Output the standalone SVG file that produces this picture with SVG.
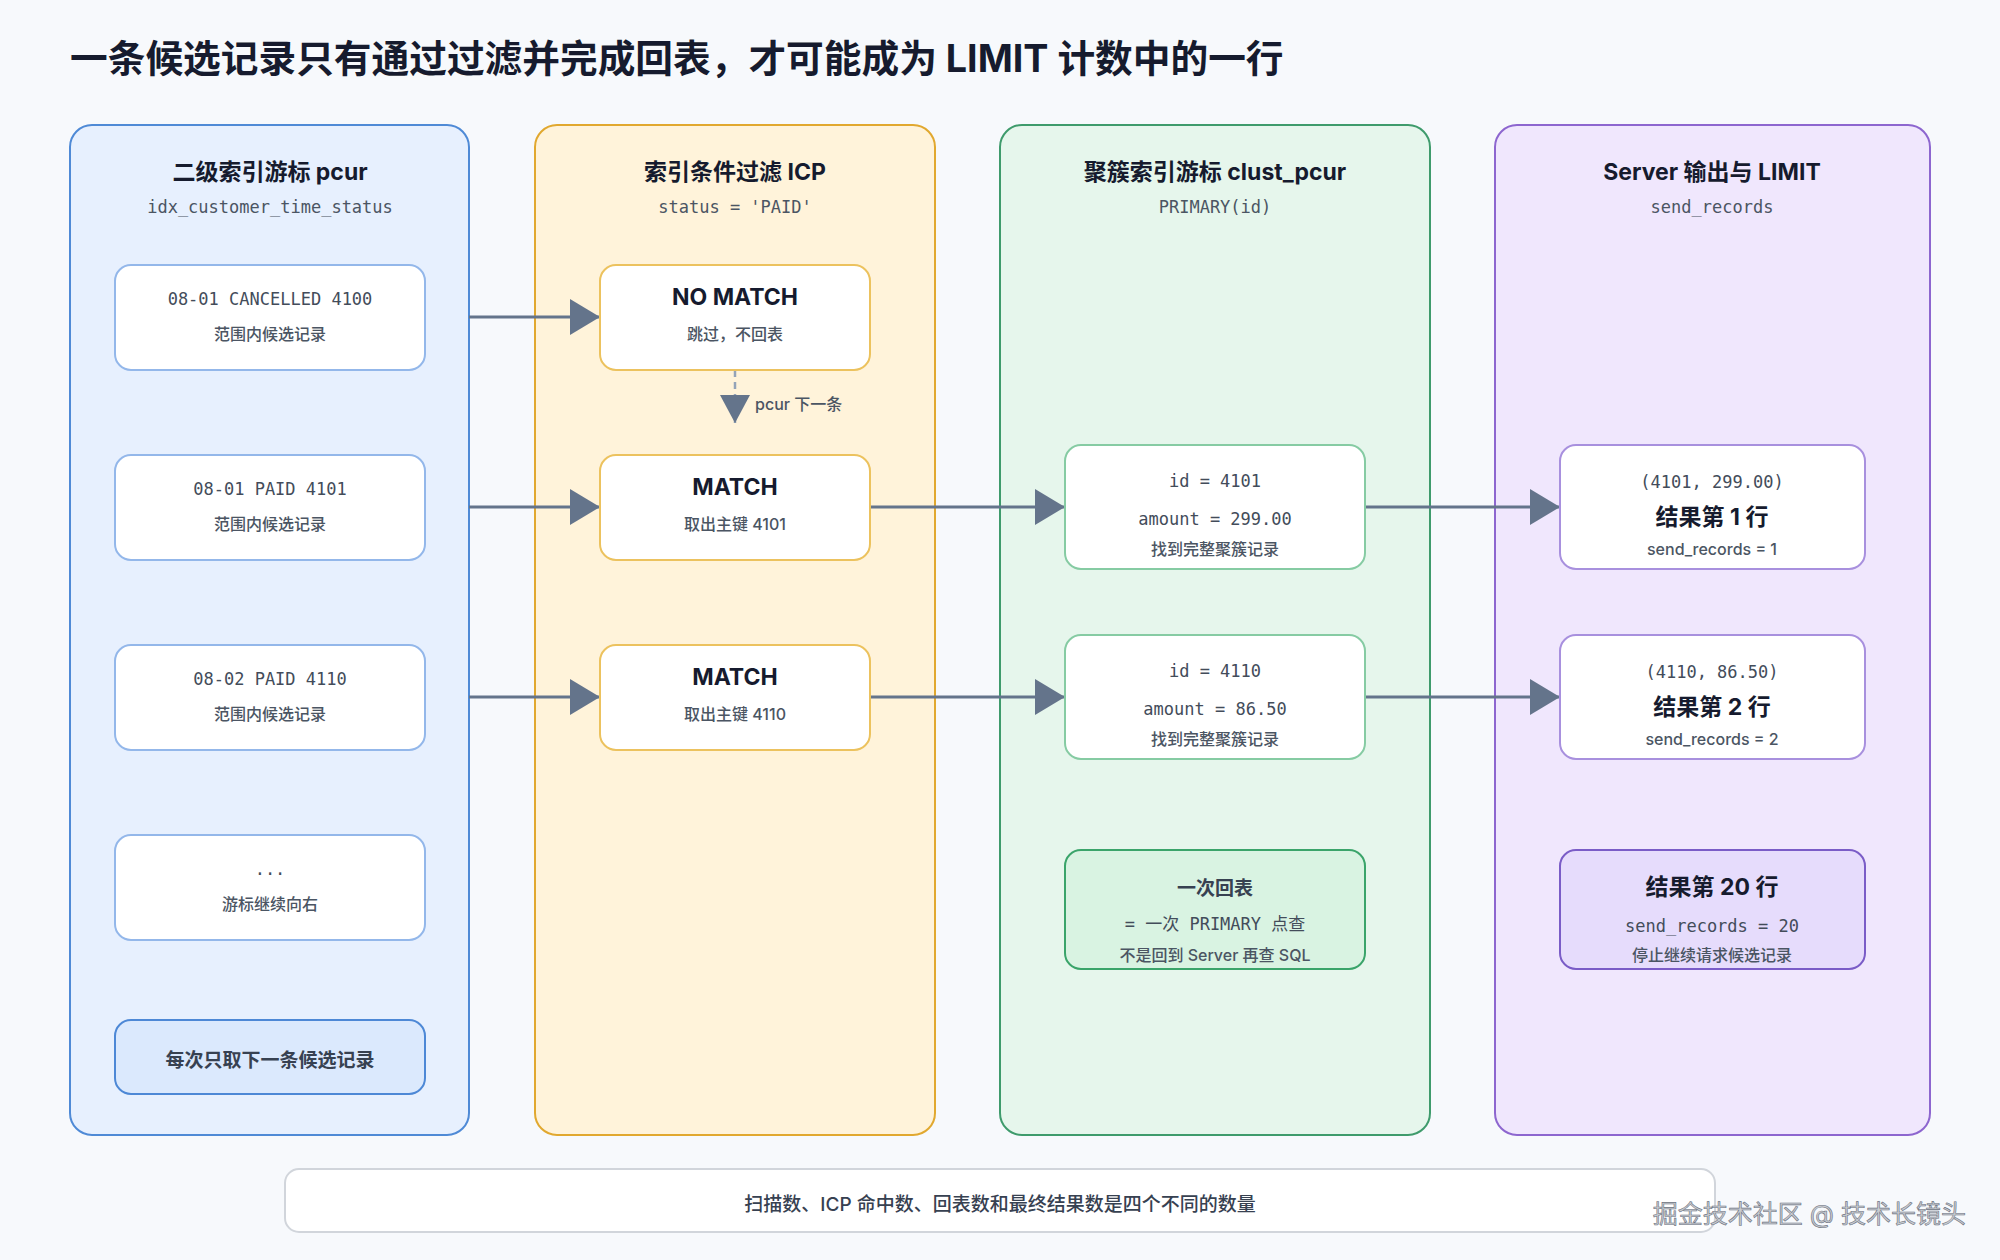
<svg xmlns="http://www.w3.org/2000/svg" width="2000" height="1260" viewBox="0 0 2000 1260">
<defs>
<style>
.sans{font-family:"Inter","Noto Sans CJK SC",sans-serif}
.mono{font-family:"DejaVu Sans Mono","Noto Sans CJK SC",monospace}
.title{font-size:37.7px;font-weight:700;fill:#161b2e}
.colt{font-size:23px;font-weight:700;fill:#161b2e;text-anchor:middle}
.cols{font-size:17px;fill:#4b5563;text-anchor:middle}
.m17{font-size:17px;fill:#434c5a;text-anchor:middle}
.sub{font-size:16px;font-weight:500;fill:#4b5563;text-anchor:middle}
.big{font-size:23px;font-weight:700;fill:#161b2e;text-anchor:middle}
.mid{font-size:19px;font-weight:600;fill:#374151;text-anchor:middle}
.node{fill:#ffffff;stroke-width:2}
.col{stroke-width:2}
.edge{stroke:#64748b;stroke-width:3;fill:none}
</style>
<marker id="ah" markerUnits="userSpaceOnUse" markerWidth="30" markerHeight="36" refX="30" refY="18" orient="auto">
<path d="M0,0 L30,18 L0,36 Z" fill="#64748b"/>
</marker>
<marker id="ahs" markerUnits="userSpaceOnUse" markerWidth="28" markerHeight="30" refX="28" refY="15" orient="auto">
<path d="M0,0 L28,15 L0,30 Z" fill="#64748b"/>
</marker>
</defs>
<rect x="0" y="0" width="2000" height="1260" fill="#f7f9fc"/>
<text class="sans title" x="70" y="72">一条候选记录只有通过过滤并完成回表，才可能成为 LIMIT 计数中的一行</text>

<g id="col-pcur">
<rect class="col" x="70" y="125" width="399" height="1010" rx="22" fill="#e7f0fe" stroke="#4f8ad6"/>
<text class="sans colt" x="270" y="180">二级索引游标 pcur</text>
<text class="mono cols" x="270" y="213">idx_customer_time_status</text>
</g>
<g id="col-icp">
<rect class="col" x="535" y="125" width="400" height="1010" rx="22" fill="#fff3da" stroke="#e1a82f"/>
<text class="sans colt" x="735" y="180">索引条件过滤 ICP</text>
<text class="mono cols" x="735" y="213">status = 'PAID'</text>
</g>
<g id="col-clust">
<rect class="col" x="1000" y="125" width="430" height="1010" rx="22" fill="#e6f6ec" stroke="#3f9b6c"/>
<text class="sans colt" x="1215" y="180">聚簇索引游标 clust_pcur</text>
<text class="mono cols" x="1215" y="213">PRIMARY(id)</text>
</g>
<g id="col-server">
<rect class="col" x="1495" y="125" width="435" height="1010" rx="22" fill="#f0e7fd" stroke="#8d66cf"/>
<text class="sans colt" x="1712" y="180">Server 输出与 LIMIT</text>
<text class="mono cols" x="1712" y="213">send_records</text>
</g>

<g id="connectors">
<line class="edge" x1="469" y1="317" x2="600" y2="317" marker-end="url(#ah)"/>
<line class="edge" x1="469" y1="507" x2="600" y2="507" marker-end="url(#ah)"/>
<line class="edge" x1="469" y1="697" x2="600" y2="697" marker-end="url(#ah)"/>
<line x1="735" y1="370" x2="735" y2="423" stroke="#94a3b8" stroke-width="2.5" stroke-dasharray="7 5" marker-end="url(#ahs)"/>
<text class="sans" x="755" y="410" font-size="16" font-weight="500" fill="#4b5563">pcur 下一条</text>
<line class="edge" x1="870" y1="507" x2="1065" y2="507" marker-end="url(#ah)"/>
<line class="edge" x1="870" y1="697" x2="1065" y2="697" marker-end="url(#ah)"/>
<line class="edge" x1="1365" y1="507" x2="1560" y2="507" marker-end="url(#ah)"/>
<line class="edge" x1="1365" y1="697" x2="1560" y2="697" marker-end="url(#ah)"/>
</g>

<g id="rec-4100">
<rect class="node" x="115" y="265" width="310" height="105" rx="16" stroke="#93b7ea"/>
<text class="mono m17" x="270" y="305">08-01 CANCELLED 4100</text>
<text class="sans sub" x="270" y="340">范围内候选记录</text>
</g>
<g id="rec-4101">
<rect class="node" x="115" y="455" width="310" height="105" rx="16" stroke="#93b7ea"/>
<text class="mono m17" x="270" y="495">08-01 PAID 4101</text>
<text class="sans sub" x="270" y="530">范围内候选记录</text>
</g>
<g id="rec-4110">
<rect class="node" x="115" y="645" width="310" height="105" rx="16" stroke="#93b7ea"/>
<text class="mono m17" x="270" y="685">08-02 PAID 4110</text>
<text class="sans sub" x="270" y="720">范围内候选记录</text>
</g>
<g id="rec-more">
<rect class="node" x="115" y="835" width="310" height="105" rx="16" stroke="#93b7ea"/>
<text class="mono m17" x="270" y="875">...</text>
<text class="sans sub" x="270" y="910">游标继续向右</text>
</g>
<g id="pcur-note">
<rect x="115" y="1020" width="310" height="74" rx="16" fill="#dbe9fd" stroke="#4d88d6" stroke-width="2"/>
<text class="sans mid" x="270" y="1067">每次只取下一条候选记录</text>
</g>

<g id="icp-nomatch">
<rect class="node" x="600" y="265" width="270" height="105" rx="16" stroke="#ecc25e"/>
<text class="sans big" x="735" y="305">NO MATCH</text>
<text class="sans sub" x="735" y="340">跳过，不回表</text>
</g>
<g id="icp-match-4101">
<rect class="node" x="600" y="455" width="270" height="105" rx="16" stroke="#ecc25e"/>
<text class="sans big" x="735" y="495">MATCH</text>
<text class="sans sub" x="735" y="530">取出主键 4101</text>
</g>
<g id="icp-match-4110">
<rect class="node" x="600" y="645" width="270" height="105" rx="16" stroke="#ecc25e"/>
<text class="sans big" x="735" y="685">MATCH</text>
<text class="sans sub" x="735" y="720">取出主键 4110</text>
</g>

<g id="clust-4101">
<rect class="node" x="1065" y="445" width="300" height="124" rx="16" stroke="#86cba3"/>
<text class="mono m17" x="1215" y="487">id = 4101</text>
<text class="mono m17" x="1215" y="525">amount = 299.00</text>
<text class="sans sub" x="1215" y="555">找到完整聚簇记录</text>
</g>
<g id="clust-4110">
<rect class="node" x="1065" y="635" width="300" height="124" rx="16" stroke="#86cba3"/>
<text class="mono m17" x="1215" y="677">id = 4110</text>
<text class="mono m17" x="1215" y="715">amount = 86.50</text>
<text class="sans sub" x="1215" y="745">找到完整聚簇记录</text>
</g>
<g id="clust-note">
<rect x="1065" y="850" width="300" height="119" rx="16" fill="#d9f3e2" stroke="#3aa46a" stroke-width="2"/>
<text class="sans mid" x="1215" y="895">一次回表</text>
<text class="mono m17" x="1215" y="930">= 一次 PRIMARY 点查</text>
<text class="sans sub" x="1215" y="961">不是回到 Server 再查 SQL</text>
</g>

<g id="server-row1">
<rect class="node" x="1560" y="445" width="305" height="124" rx="16" stroke="#a890de"/>
<text class="mono m17" x="1712" y="488">(4101, 299.00)</text>
<text class="sans big" x="1712" y="525">结果第 1 行</text>
<text class="sans sub" x="1712" y="555">send_records = 1</text>
</g>
<g id="server-row2">
<rect class="node" x="1560" y="635" width="305" height="124" rx="16" stroke="#a890de"/>
<text class="mono m17" x="1712" y="678">(4110, 86.50)</text>
<text class="sans big" x="1712" y="715">结果第 2 行</text>
<text class="sans sub" x="1712" y="745">send_records = 2</text>
</g>
<g id="server-row20">
<rect x="1560" y="850" width="305" height="119" rx="16" fill="#e6dcfc" stroke="#7a5cc7" stroke-width="2"/>
<text class="sans big" x="1712" y="895">结果第 20 行</text>
<text class="mono m17" x="1712" y="932">send_records = 20</text>
<text class="sans sub" x="1712" y="961">停止继续请求候选记录</text>
</g>

<g id="summary">
<rect x="285" y="1169" width="1430" height="63" rx="14" fill="#ffffff" stroke="#d1d5db" stroke-width="2"/>
<text class="sans" x="1000" y="1211" font-size="19" font-weight="500" fill="#374151" text-anchor="middle">扫描数、ICP 命中数、回表数和最终结果数是四个不同的数量</text>
</g>
<text class="sans" x="1966" y="1223" font-size="25" fill="#c9ccd1" stroke="#6b7280" stroke-width="0.6" text-anchor="end">掘金技术社区 @ 技术长镜头</text>
</svg>
